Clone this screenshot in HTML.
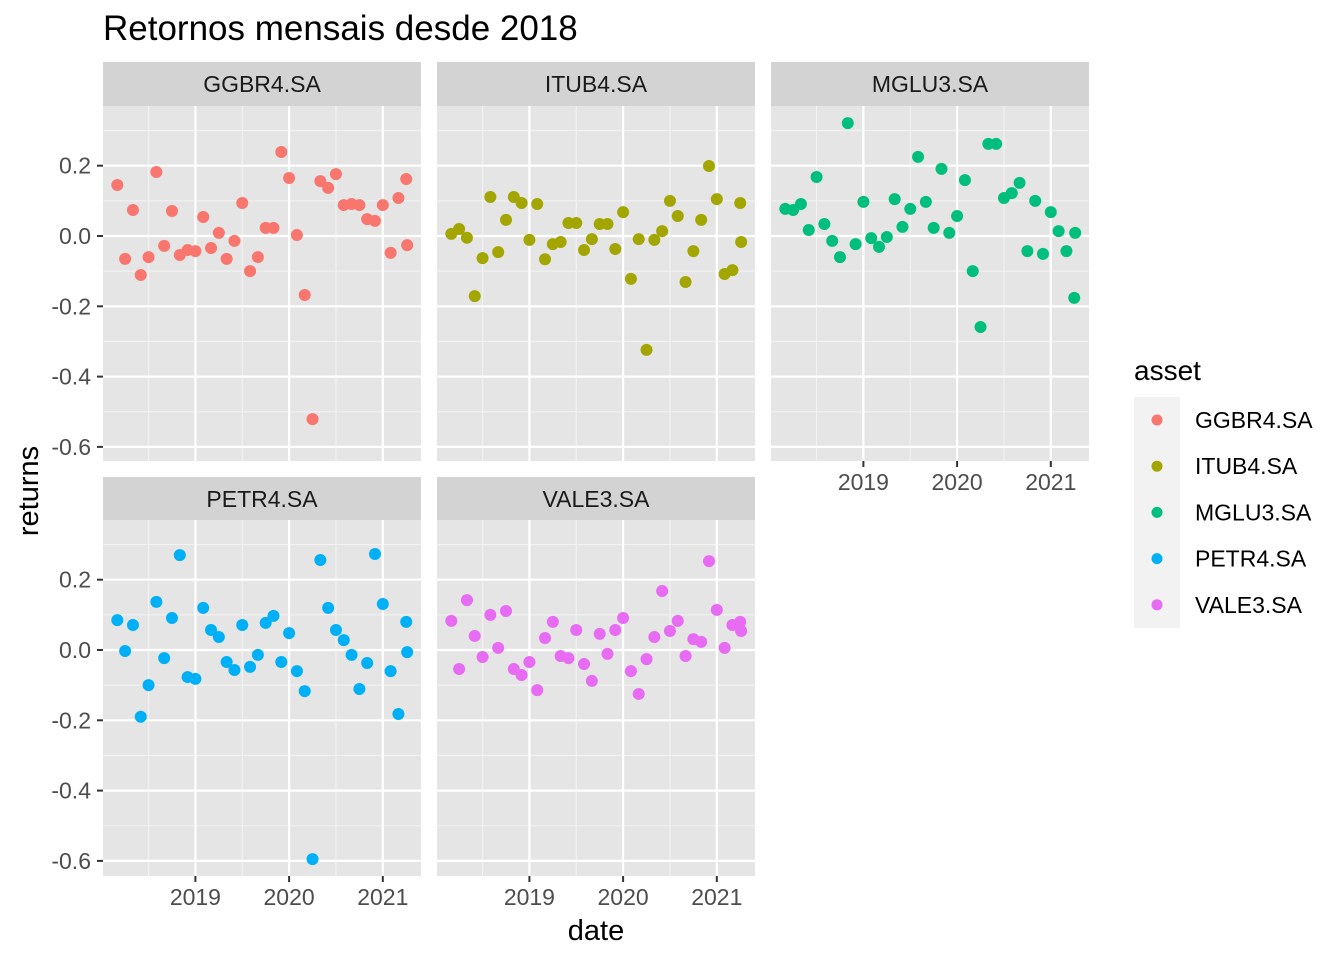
<!DOCTYPE html>
<html><head><meta charset="utf-8"><style>
html,body{margin:0;padding:0;background:#fff;}
svg text{font-family:"Liberation Sans",Arial,sans-serif;}
</style></head>
<body>
<svg id="chart" width="1344" height="960" xmlns="http://www.w3.org/2000/svg">
<rect width="1344" height="960" fill="#fff"/>
<text x="103" y="40" font-size="35" fill="#000">Retornos mensais desde 2018</text>
<text x="0" y="0" font-size="29" fill="#000" text-anchor="middle" transform="translate(38,491) rotate(-90)">returns</text>
<text x="596" y="940" font-size="29" fill="#000" text-anchor="middle">date</text>
<g id="panels"></g>
<g id="legend">
<text x="1134" y="380" font-size="28" fill="#000">asset</text>
<rect x="1134" y="397" width="46" height="231" fill="#f2f2f2"/>
</g>
</svg>
<script>
const assets = ["GGBR4.SA","ITUB4.SA","MGLU3.SA","PETR4.SA","VALE3.SA"];
const colors = ["#F8766D","#A3A500","#00BF7D","#00B0F6","#E76BF3"];
const yTicks = [0.2,0.0,-0.2,-0.4,-0.6];
const yTickLabels = ["0.2","0.0","-0.2","-0.4","-0.6"];
const xTicks = [2019,2020,2021];
const xTickLabels = ["2019","2020","2021"];
const dates = [];
for (let i = 0; i < 38; i++) dates.push(2018 + (2 + i) / 12);
dates.push(2021.26);
const ggbr = [0.145,-0.065,0.074,-0.111,-0.06,0.182,-0.028,0.071,-0.054,-0.04,-0.043,0.054,-0.034,0.009,-0.065,-0.014,0.094,-0.1,-0.06,0.023,0.023,0.239,0.165,0.003,-0.168,-0.521,0.156,0.137,0.176,0.088,0.091,0.088,0.048,0.043,0.088,-0.048,0.108,0.162,-0.026];
const itub = [0.006,0.02,-0.005,-0.171,-0.063,0.111,-0.046,0.046,0.111,0.094,-0.011,0.091,-0.066,-0.023,-0.017,0.037,0.037,-0.04,-0.009,0.034,0.034,-0.037,0.068,-0.122,-0.009,-0.324,-0.011,0.014,0.1,0.057,-0.131,-0.043,0.046,0.199,0.105,-0.108,-0.097,0.094,-0.017];
const mglu = [0.077,0.074,0.091,0.017,0.168,0.034,-0.014,-0.06,0.321,-0.023,0.097,-0.006,-0.031,-0.003,0.105,0.026,0.077,0.225,0.097,0.023,0.191,0.009,0.057,0.159,-0.1,-0.259,0.262,0.262,0.108,0.122,0.151,-0.043,0.1,-0.051,0.068,0.014,-0.043,-0.176,0.009];
const petr = [0.085,-0.003,0.071,-0.19,-0.1,0.137,-0.023,0.091,0.27,-0.077,-0.082,0.12,0.057,0.037,-0.034,-0.057,0.071,-0.048,-0.014,0.077,0.097,-0.034,0.048,-0.06,-0.117,-0.595,0.256,0.12,0.057,0.028,-0.014,-0.111,-0.037,0.273,0.131,-0.06,-0.182,0.08,-0.006];
const vale = [0.083,-0.054,0.142,0.04,-0.02,0.1,0.006,0.111,-0.054,-0.071,-0.034,-0.114,0.034,0.08,-0.017,-0.023,0.057,-0.04,-0.088,0.046,-0.011,0.057,0.091,-0.06,-0.125,-0.026,0.037,0.168,0.054,0.083,-0.017,0.031,0.023,0.253,0.114,0.006,0.071,0.08,0.054];
const series = [ggbr, itub, mglu, petr, vale];

const NS = "http://www.w3.org/2000/svg";
function mk(tag, attrs, parent) {
  const e = document.createElementNS(NS, tag);
  for (const k in attrs) e.setAttribute(k, attrs[k]);
  parent.appendChild(e);
  return e;
}
const panelW = 318;
const layout = [
  {left:103, top:106, bottom:461, stripTop:62},
  {left:437, top:106, bottom:461, stripTop:62},
  {left:771, top:106, bottom:461, stripTop:62},
  {left:103, top:520, bottom:876, stripTop:477},
  {left:437, top:520, bottom:876, stripTop:477}
];
const PXY = 93.7;
const PXV = 351.5;
function xScale(p, yr) { return p.left + 92.4 + (yr - 2019) * PXY; }
function yScale(p, v) { const zero = p.top + 130; return zero - v * PXV; }

const root = document.getElementById('panels');
layout.forEach((p, idx) => {
  const g = mk('g', {}, root);
  
  
  const strip = mk('rect', {x:p.left, y:p.stripTop, width:panelW, height:p.top - p.stripTop, fill:'#d3d3d3'}, g);
  
  
  const st = mk('text', {x:p.left + panelW/2, y:p.stripTop + 30, 'font-size':'23', fill:'#1a1a1a', 'text-anchor':'middle'}, g);
  st.textContent = assets[idx];
  
  
  const bg = mk('rect', {x:p.left, y:p.top, width:panelW, height:p.bottom - p.top, fill:'#e5e5e5'}, g);
  
  
  for (let i = 0; i < yTicks.length - 1; i++) {
    const v = (yTicks[i] + yTicks[i+1]) / 2;
    mk('line', {x1:p.left, x2:p.left+panelW, y1:yScale(p,v), y2:yScale(p,v), stroke:'#f2f2f2', 'stroke-width':'1.1'}, g);
  }
  mk('line', {x1:p.left, x2:p.left+panelW, y1:yScale(p,0.3), y2:yScale(p,0.3), stroke:'#f2f2f2', 'stroke-width':'1.1'}, g);
  [2018.5, 2019.5, 2020.5].forEach(yr => {
    mk('line', {x1:xScale(p,yr), x2:xScale(p,yr), y1:p.top, y2:p.bottom, stroke:'#f2f2f2', 'stroke-width':'1.1'}, g);
  });
  yTicks.forEach(v => {
    mk('line', {x1:p.left, x2:p.left+panelW, y1:yScale(p,v), y2:yScale(p,v), stroke:'#fff', 'stroke-width':'2.2'}, g);
  });
  xTicks.forEach(yr => {
    mk('line', {x1:xScale(p,yr), x2:xScale(p,yr), y1:p.top, y2:p.bottom, stroke:'#fff', 'stroke-width':'2.2'}, g);
  });
  if (p.left === 103) {
    yTicks.forEach((v, i) => {
      mk('line', {x1:p.left-6, x2:p.left, y1:yScale(p,v), y2:yScale(p,v), stroke:'#333', 'stroke-width':'2'}, g);
      const t = mk('text', {x:p.left-12, y:yScale(p,v)+8, 'font-size':'23', fill:'#4d4d4d', 'text-anchor':'end'}, g);
      t.textContent = yTickLabels[i];
      
      
    });
  }
  if (idx >= 2) {
    xTicks.forEach((yr, i) => {
      mk('line', {x1:xScale(p,yr), x2:xScale(p,yr), y1:p.bottom, y2:p.bottom+6, stroke:'#333', 'stroke-width':'2'}, g);
      const t = mk('text', {x:xScale(p,yr), y:p.bottom+29, 'font-size':'23', fill:'#4d4d4d', 'text-anchor':'middle'}, g);
      t.textContent = xTickLabels[i];
      
      
    });
  }
  series[idx].forEach((v, i) => {
    const c = mk('circle', {cx:xScale(p, dates[i]), cy:yScale(p, v), r:'6', fill:colors[idx]}, g);
    
    
  });
});
const lg = document.getElementById('legend');
assets.forEach((a, i) => {
  const y = 420 + i * 46.2;
  const c = mk('circle', {cx:1157, cy:y, r:'5.5', fill:colors[i]}, lg);
  
  
  const t = mk('text', {x:1195, y:y+8, 'font-size':'23', fill:'#000'}, lg);
  t.textContent = a;
  
  
});
</script>
</body></html>
